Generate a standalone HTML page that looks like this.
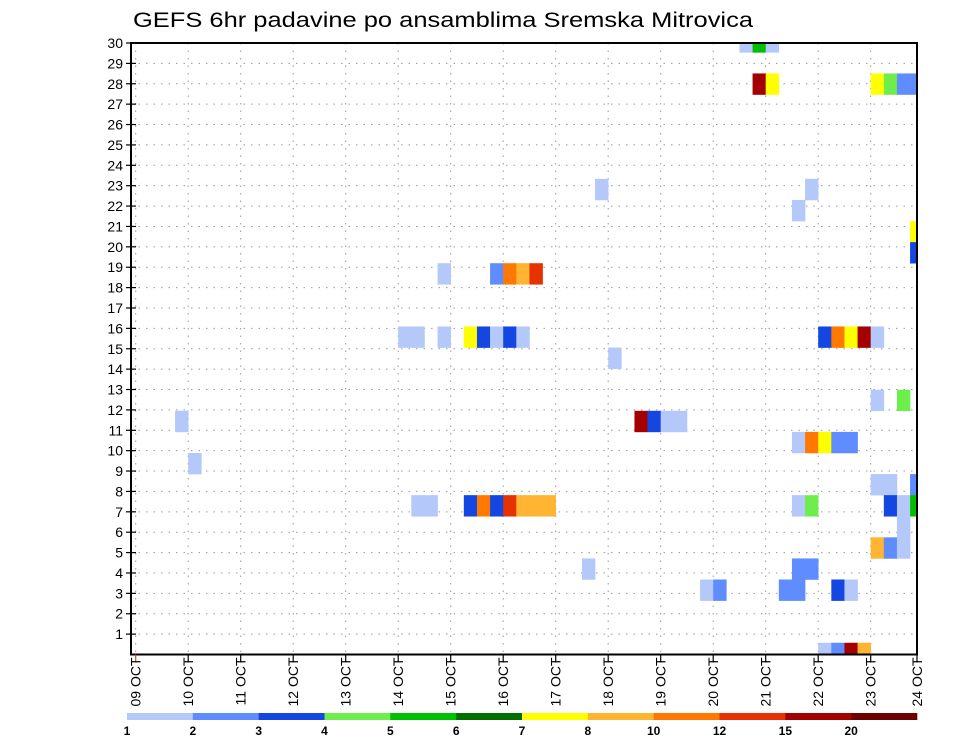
<!DOCTYPE html>
<html><head><meta charset="utf-8"><style>
body{margin:0;background:#fff;}
svg text{font-family:"Liberation Sans","DejaVu Sans",sans-serif;}
</style></head><body>
<svg id="chart" width="960" height="742" xmlns="http://www.w3.org/2000/svg">
<text x="133" y="27" font-size="21" fill="#000" textLength="620" lengthAdjust="spacingAndGlyphs">GEFS 6hr padavine po ansamblima Sremska Mitrovica</text>
<g id="grid"></g>
<g id="cells"></g>
<g id="axes"></g>
<g id="cbar"></g>
</svg>
<script>
// --- data ---
const dayLabels = ["09 OCT","10 OCT","11 OCT","12 OCT","13 OCT","14 OCT","15 OCT","16 OCT","17 OCT","18 OCT","19 OCT","20 OCT","21 OCT","22 OCT","23 OCT","24 OCT"];
const memberTicks = [1,2,3,4,5,6,7,8,9,10,11,12,13,14,15,16,17,18,19,20,21,22,23,24,25,26,27,28,29,30];
const levelLabels = ["1","2","3","4","5","6","7","8","10","12","15","20"];
const levelColors = ["#b4c8fa","#5f8cff","#1446e1","#6eee4c","#00be00","#006e00","#ffff00","#ffb432","#ff7800","#e63200","#a50000","#6e0000"];
// cells: time step index (6-hourly from 09 OCT 00Z), member slot, precipitation class
const cellStep  = [46,47,48, 47,48,56,57,58,59, 35,51, 50, 59, 59, 23,27,28,29,30, 20,21,23,25,26,27,28,29,52,53,54,55,56, 36, 56,58, 3,38,39,40,41, 50,51,52,53,54, 4, 56,57,59, 21,22,25,26,27,28,29,30,31,50,51,57,58,59, 58, 56,57,58, 34,50,51, 43,44,49,50,53,54, 52,53,54,55];
const cellSlot  = [29,29,29, 27,27,27,27,27,27, 22,22, 21, 20, 19, 18,18,18,18,18, 15,15,15,15,15,15,15,15,15,15,15,15,15, 14, 12,12, 11,11,11,11,11, 10,10,10,10,10, 9, 8,8,8, 7,7,7,7,7,7,7,7,7,7,7,7,7,7, 6, 5,5,5, 4,4,4, 3,3,3,3,3,3, 0,0,0,0];
const cellClass = [0,4,0, 10,6,6,3,1,1, 0,0, 0, 6, 2, 0,1,8,7,9, 0,0,0,6,2,0,2,0,2,8,6,10,0, 0, 0,3, 0,10,2,0,0, 0,8,6,1,1, 0, 0,0,1, 0,0,2,8,2,9,7,7,7,0,3,2,0,4, 0, 7,1,0, 0,1,1, 0,1,1,1,2,0, 0,1,10,7];

// --- geometry ---
const L=131, R=917, T=43, B=654.5;
const x0=135.7, dayW=52.5, stepW=dayW/4;
const rowH=(B-T)/30, slotH=(B-T)/29;
const xDay=d=>x0+d*dayW;
const xStep=i=>x0+i*stepW;
const yMem=m=>B-m*rowH;
const ySlot=j=>B-1.2-j*slotH;
const NS="http://www.w3.org/2000/svg";
function mk(tag,attrs,parent){const e=document.createElementNS(NS,tag);for(const k in attrs)e.setAttribute(k,attrs[k]);parent.appendChild(e);return e;}
const svg=document.getElementById('chart');
const grid=document.getElementById('grid'),cells=document.getElementById('cells'),axes=document.getElementById('axes'),cbar=document.getElementById('cbar');

const defs=mk('defs',{},svg);
const cp=mk('clipPath',{id:'plotclip'},defs);
mk('rect',{x:L,y:T,width:R-L,height:B-T},cp);
cells.setAttribute('clip-path','url(#plotclip)');

memberTicks.forEach(m=>{
  const g=mk('line',{x1:L,x2:R,y1:yMem(m),y2:yMem(m),stroke:'#999','stroke-width':1,'stroke-dasharray':'1.5,6'},grid);
  
  
});
dayLabels.forEach((d,k)=>{
  const x=xDay(k); if(x>R-1) return;
  const g=mk('line',{x1:x,x2:x,y1:T,y2:B,stroke:'#999','stroke-width':1,'stroke-dasharray':'1.5,6'},grid);
  
  
});

cellStep.forEach((s,n)=>{
  const j=cellSlot[n];
  const r=mk('rect',{x:xStep(s),y:ySlot(j)-slotH/2,width:stepW+0.3,height:slotH+0.3,fill:levelColors[cellClass[n]]},cells);
  
  
});

const fr=mk('rect',{x:L,y:T,width:R-L,height:B-T,fill:'none',stroke:'#000','stroke-width':2},axes);


memberTicks.forEach(m=>{
  const y=yMem(m);
  mk('line',{x1:L-5,x2:L+5,y1:y,y2:y,stroke:'#000','stroke-width':1.2},axes);
  const t=mk('text',{x:123,y:y+5,'font-size':14,'text-anchor':'end',fill:'#000'},axes);
  t.textContent=m;
  
  
});
dayLabels.forEach((d,k)=>{
  let x=xDay(k); if(x>R) x=R;
  mk('line',{x1:x,x2:x,y1:B,y2:B+8,stroke:k===0?'#c44':'#000','stroke-width':1.2},axes);
  const t=mk('text',{x:0,y:0,'font-size':14,'text-anchor':'end',fill:'#000',transform:`translate(${x+5},${B+3}) rotate(-90)`},axes);
  t.textContent=d;
  
  
});

const cbL=127, cbW=(917-127)/12;
levelColors.forEach((c,k)=>{
  const r=mk('rect',{x:cbL+k*cbW,y:713,width:cbW+0.3,height:7,fill:c},cbar);
  
  
});
levelLabels.forEach((l,k)=>{
  const t=mk('text',{x:cbL+k*cbW,y:735,'font-size':12,'font-weight':'bold','text-anchor':'middle',fill:'#000'},cbar);
  t.textContent=l;
  
  
});
</script>
</body></html>
